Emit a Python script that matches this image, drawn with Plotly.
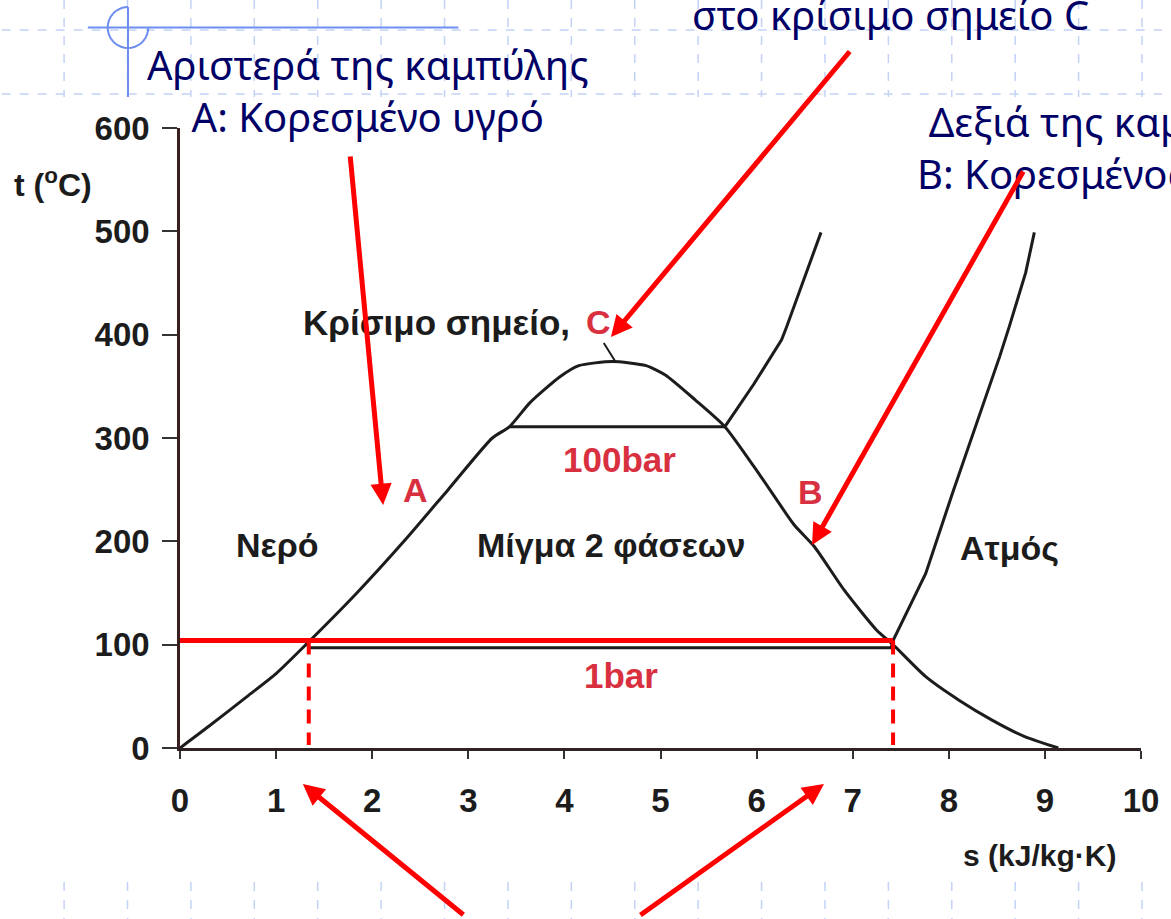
import math
import plotly.graph_objects as go

# ---- data: T-s diagram of water (s in kJ/kg·K, t in °C) ----
s_ticks = [0, 1, 2, 3, 4, 5, 6, 7, 8, 9, 10]
t_ticks = [0, 100, 200, 300, 400, 500, 600]

# saturation dome: liquid branch, critical region, vapour branch
dome_s = [0.00, 0.30, 0.70, 1.00, 1.31, 1.84, 2.33, 2.79, 3.25, 3.43, 3.64, 3.95, 4.15,
          4.50, 4.85, 5.05, 5.36, 5.67, 6.05, 6.39, 6.60, 6.91, 7.25, 7.42, 7.76, 8.11,
          8.45, 8.79, 9.14]
dome_t = [0, 21, 50, 72, 100, 150, 200, 250, 300, 311, 334, 359, 370,
          374, 370, 361, 337, 311, 262, 216, 195, 153, 114, 100, 69, 46,
          27, 11, 0]

# 100 bar isobar
p100_s = [3.43, 5.67, 5.97, 6.26, 6.31, 6.48, 6.67]
p100_t = [311, 311, 352, 395, 407, 450, 499]

# 1 bar isobar
p1_s = [1.34, 7.40, 7.42, 7.76, 8.04, 8.28, 8.53, 8.63, 8.80, 8.89]
p1_t = [97, 97, 104, 169, 247, 311, 379, 408, 460, 499]

# pointer line to the critical point
crit_s = [4.41, 4.53]
crit_t = [392, 374]

# highlighted boiling at 1 bar (100 °C): saturated liquid / saturated vapour entropies
boil_t = 104
sf_1bar = 1.34
sg_1bar = 7.42
drop_t = 3

# ---- page geometry (pixels) ----
W, H = 1171, 919
ML, MR, MT, MB = 180, 21, 128, 171
PW, PH = W - ML - MR, H - MT - MB


def px(x):
    return (x - ML) / PW


def py(y):
    return (H - MB - y) / PH


NAVY = "#000066"
INK = "#1c1c1c"
RED = "#ff0000"
LABEL_RED = "#d9303f"
GRID = "#c3d2f6"
LOGO = "#6e8ff0"
SCAN_FONT = "Liberation Sans, Arial, sans-serif"
SLIDE_FONT = "Noto Sans, DejaVu Sans, sans-serif"

fig = go.Figure()

line_black = dict(color=INK, width=3)
fig.add_trace(go.Scatter(x=dome_s, y=dome_t, mode="lines",
                         line=dict(color=INK, width=3, shape="spline", smoothing=0.6),
                         hoverinfo="skip"))
fig.add_trace(go.Scatter(x=p100_s, y=p100_t, mode="lines", line=line_black, hoverinfo="skip"))
fig.add_trace(go.Scatter(x=p1_s, y=p1_t, mode="lines", line=line_black, hoverinfo="skip"))
fig.add_trace(go.Scatter(x=crit_s, y=crit_t, mode="lines", line=dict(color=INK, width=2),
                         hoverinfo="skip"))

# red highlight of the 1 bar boiling line and the two entropy drop lines
fig.add_trace(go.Scatter(x=[0, sg_1bar], y=[boil_t, boil_t], mode="lines",
                         line=dict(color=RED, width=5), hoverinfo="skip"))
for s_val in (sf_1bar, sg_1bar):
    fig.add_trace(go.Scatter(x=[s_val, s_val], y=[boil_t, drop_t], mode="lines",
                             line=dict(color=RED, width=4, dash="14px,9px"), hoverinfo="skip"))

shapes = []
# slide template: light dashed grid in the top and bottom bands
for k in range(18):
    gx = 63 + 64 * k
    for y0, y1 in ((0, 97), (882, 919)):
        shapes.append(dict(type="line", xref="paper", yref="paper",
                           x0=px(gx), x1=px(gx), y0=py(y0), y1=py(y1),
                           line=dict(color=GRID, width=1.5, dash="dash")))
for gy in (30, 94):
    shapes.append(dict(type="line", xref="paper", yref="paper",
                       x0=px(0), x1=px(W), y0=py(gy), y1=py(gy),
                       line=dict(color=GRID, width=1.5, dash="dash")))

# slide template logo: cross with a three-quarter circle
cx, cy, r = 127.5, 27.5, 20.5
pts = []
for i in range(0, 271, 10):
    a = math.radians(i)
    pts.append((px(cx + r * math.cos(a)), py(cy + r * math.sin(a))))
path = "M " + " L ".join(f"{x:.5f},{y:.5f}" for x, y in pts)
shapes.append(dict(type="path", xref="paper", yref="paper", path=path,
                   line=dict(color=LOGO, width=2)))
shapes.append(dict(type="line", xref="paper", yref="paper", x0=px(87), x1=px(461),
                   y0=py(27.5), y1=py(27.5), line=dict(color=LOGO, width=2)))
shapes.append(dict(type="line", xref="paper", yref="paper", x0=px(127.5), x1=px(127.5),
                   y0=py(7), y1=py(97), line=dict(color=LOGO, width=2)))

annotations = []


def scan_text(text, x, y, color=INK, size=34):
    annotations.append(dict(text=text, x=x, y=y, xref="x", yref="y", showarrow=False,
                            xanchor="center", yanchor="middle",
                            font=dict(family=SCAN_FONT, size=size, color=color, weight="bold")))


scan_text("Νερό", 1.01, 196)
scan_text("Μίγμα 2 φάσεων", 4.48, 196)
scan_text("Ατμός", 8.63, 194)
scan_text("Κρίσιμο σημείο,", 2.67, 412, size=35)
scan_text("C", 4.35, 412, LABEL_RED)
scan_text("A", 2.45, 250, LABEL_RED)
scan_text("B", 6.56, 248, LABEL_RED)
scan_text("100bar", 4.57, 279, LABEL_RED, size=35)
scan_text("1bar", 4.59, 70, LABEL_RED, size=35)

# axis titles
annotations.append(dict(text="t (<sup>o</sup>C)", x=px(52), y=py(183), xref="paper", yref="paper",
                        showarrow=False, xanchor="center", yanchor="middle",
                        font=dict(family=SCAN_FONT, size=32, color=INK, weight="bold")))
annotations.append(dict(text="s (kJ/kg·K)", x=px(1048), y=py(855), xref="paper", yref="paper",
                        showarrow=False, xanchor="center", yanchor="middle",
                        font=dict(family=SCAN_FONT, size=30, color=INK, weight="bold")))


# slide captions
def caption(text, x, y):
    annotations.append(dict(text=text, x=px(x), y=py(y), xref="paper", yref="paper",
                            showarrow=False, xanchor="center", yanchor="middle", align="center",
                            font=dict(family=SLIDE_FONT, size=40, color=NAVY)))


caption("Αριστερά της καμπύλης<br>A: Κορεσμένο υγρό", 370, 90)
caption("στο κρίσιμο σημείο C", 897, 15)
caption("Δεξιά της καμπύλης<br>B: Κορεσμένος ατμός", 1122, 148)

# red pointer arrows (head, tail) in page pixels
arrows = [((385, 505), (352, 155)),
          ((615, 337), (855, 50)),
          ((818, 545), (1030, 170)),
          ((304, 784), (466, 916)),
          ((830, 784), (645, 916))]
for (hx, hy), (tx, ty) in arrows:
    annotations.append(dict(text="", x=px(hx), y=py(hy), xref="paper", yref="paper",
                            ax=tx - hx, ay=ty - hy, axref="pixel", ayref="pixel",
                            showarrow=True, arrowhead=2, arrowsize=0.85, arrowwidth=5,
                            arrowcolor=RED, standoff=0))

tick_font = dict(family=SCAN_FONT, size=33, color=INK, weight="bold")
fig.update_layout(
    width=W, height=H, autosize=False,
    margin=dict(l=ML, r=MR, t=MT, b=MB, pad=0),
    paper_bgcolor="white", plot_bgcolor="white",
    showlegend=False,
    shapes=shapes, annotations=annotations,
    xaxis=dict(range=[0, 10], tickmode="array", tickvals=s_ticks,
               ticktext=[str(v) for v in s_ticks],
               showgrid=False, zeroline=False, showline=True, linecolor="#2e2222", linewidth=2.5,
               ticks="outside", ticklen=8, tickwidth=2, tickcolor="#333333",
               tickfont=tick_font, ticklabelstandoff=14),
    yaxis=dict(range=[0, 600], tickmode="array", tickvals=t_ticks,
               ticktext=[str(v) for v in t_ticks],
               showgrid=False, zeroline=False, showline=True, linecolor="#3a1f1f", linewidth=2.5,
               ticks="outside", ticklen=15, tickwidth=2, tickcolor="#333333",
               tickfont=tick_font, ticklabelstandoff=6),
)

fig.write_html("out.html")
